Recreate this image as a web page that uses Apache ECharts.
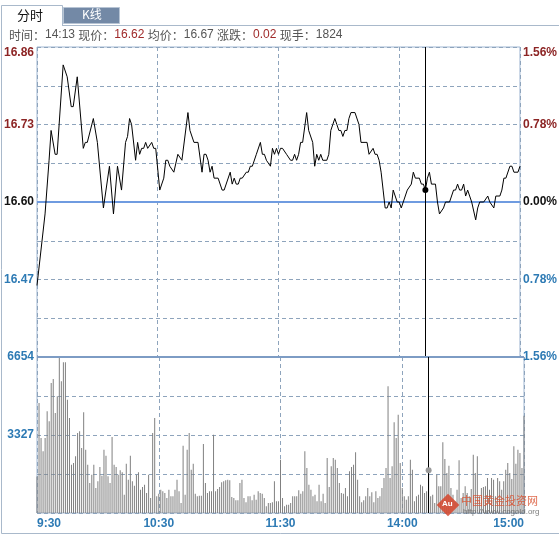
<!DOCTYPE html>
<html>
<head>
<meta charset="utf-8">
<script src="https://cdn.jsdelivr.net/npm/echarts@6/dist/echarts.min.js"></script>
<style>
  html, body { margin: 0; padding: 0; background: #fff; }
  #chart { width: 560px; height: 538px; }
</style>
</head>
<body>
<div id="chart"></div>
<script>
// x axis: minute index of the session, 0 = 9:30, 120 = 11:30/13:00, 240 = 15:00
const timeLabels = ['9:30', '10:30', '11:30', '14:00', '15:00']
const prevClose = 16.60
const priceStep = 0.065
const avgPrice = 16.67
const crossMinute = 193   // 14:13

// price line, read vertex by vertex
const priceMinutes = [0,4,6,7,9,10,13,15,17,18,20,23,24,25,28,30,33,36,38,40,42,44,45,46,47,49,50,51,52,53,54,55,57,58,59,
  61,63,64,65,66,68,70,72,75,76,78,80,82,83,84,85,86,87,88,90,92,93,96,97,98,99,100,101,102,104,105,106,107,109,111,112,113,114,116,117,118,119,120,
  121,122,124,126,127,128,129,130,131,132,134,135,137,138,139,140,141,142,144,145,146,147,148,149,150,151,152,153,154,155,156,158,160,161,163,164,165,167,168,169,170,171,172,173,174,175,176,177,179,180,
  181,182,184,186,187,188,190,191,192,193,194,195,196,198,199,200,202,203,205,207,208,209,210,211,212,213,214,215,216,218,219,220,222,224,225,227,228,230,231,232,233,235,236,237,239,240]
const priceValues = [16.46,16.58,16.67,16.72,16.68,16.68,16.83,16.81,16.76,16.76,16.81,16.69,16.70,16.70,16.74,16.70,16.59,16.66,16.58,16.66,16.62,16.70,16.71,16.74,16.73,16.67,16.70,16.68,16.69,16.69,16.70,16.69,16.70,16.69,16.69,
  16.62,16.64,16.67,16.67,16.66,16.65,16.68,16.67,16.75,16.72,16.70,16.70,16.65,16.68,16.68,16.67,16.65,16.66,16.64,16.64,16.62,16.62,16.65,16.63,16.64,16.63,16.63,16.64,16.64,16.65,16.65,16.66,16.66,16.68,16.70,16.68,16.68,16.67,16.66,16.69,16.68,16.69,16.68,
  16.69,16.69,16.68,16.67,16.67,16.68,16.67,16.68,16.70,16.70,16.75,16.72,16.70,16.66,16.68,16.67,16.68,16.67,16.67,16.68,16.72,16.73,16.74,16.73,16.72,16.72,16.71,16.72,16.72,16.74,16.75,16.75,16.73,16.70,16.70,16.70,16.68,16.69,16.68,16.68,16.67,16.65,16.62,16.59,16.59,16.60,16.59,16.62,16.60,16.60,
  16.59,16.60,16.62,16.63,16.65,16.64,16.64,16.63,16.63,16.62,16.64,16.65,16.63,16.63,16.60,16.58,16.59,16.60,16.60,16.62,16.62,16.63,16.62,16.62,16.63,16.61,16.62,16.61,16.60,16.57,16.59,16.60,16.60,16.61,16.60,16.59,16.61,16.61,16.62,16.64,16.64,16.66,16.66,16.65,16.65,16.66]

// volume per minute, 241 bars
const volume = [1560,4693,3200,2631,3200,4337,3911,5546,5716,4266,
  4977,6612,5617,6427,6427,4835,4053,2062,2133,2417,
  3413,3484,2773,4294,2702,2062,1280,1635,2062,1067,
  1351,1962,1593,2702,2446,1564,1280,3242,2062,1962,
  1635,1820,1735,782,2105,1422,2446,1351,1166,1635,
  1735,995,1109,1209,853,1635,640,3413,4053,711,
  825,995,924,853,640,995,711,711,995,1422,
  924,427,2872,782,2702,3413,
  1849,2105,825,711,739,739,2944,1280,853,924,
  924,3342,924,1024,1109,1308,1351,1394,1422,1394,
  683,640,540,540,1280,1422,640,455,711,711,
  540,782,569,924,853,825,640,284,427,427,
  455,1351,498,498,2275,640,284,356,356,427,
  711,711,711,967,825,924,2631,1920,1209,995,
  711,782,498,1209,498,825,427,2346,1109,1991,
  2346,2275,1920,1280,853,825,1067,711,1778,1962,
  2062,2588,1422,711,455,540,711,1067,
  711,882,455,924,640,711,1067,1493,1920,5404,
  1493,1991,3868,3200,4195,2133,1067,711,569,711,
  2275,1849,498,711,782,1209,1138,853,924,1824,
  711,782,427,1635,1138,1138,3015,2304,1706,
  2019,1067,782,498,995,2247,640,853,1138,
  853,711,1024,2489,1706,2417,711,1067,1109,1138,
  1493,995,1493,1422,711,1493,1351,995,1351,1849,
  2133,1706,1450,2844,2105,2702,2560,1920,4152]
const volMax = 6654

const RED = '#8c2424', BLUE = '#2d7ab4', GRIDC = '#8ea4bc', FRAME = '#9fb6d2'
const FONT = 'Liberation Sans, Arial, Noto Sans CJK SC, sans-serif'

const priceData = priceMinutes.map((m, i) => [m, priceValues[i]])
const volData = volume.map((v, i) => [i, v])
const crossPrice = priceValues[priceMinutes.indexOf(crossMinute)]
const crossVol = volume[crossMinute]

function minuteToTime(m) {
  const t = m <= 120 ? 9 * 60 + 30 + m : 13 * 60 + (m - 120)
  return Math.floor(t / 60) + ':' + String(t % 60).padStart(2, '0')
}

const dashed = { show: true, lineStyle: { color: GRIDC, type: [4, 3], width: 1 } }
const pctText = v => (Math.floor(Math.abs(v) * priceStep / prevClose * 10000) / 100).toFixed(2) + '%'
const sideColor = v => (v > 0 ? RED : v < 0 ? BLUE : '#111')

const chart = echarts.init(document.getElementById('chart'))
chart.setOption({
  animation: false,
  grid: [
    { left: 37, top: 47, width: 487, height: 310, show: true, borderColor: FRAME, borderWidth: 1 },
    { left: 37, top: 357, width: 487, height: 156, show: true, borderColor: FRAME, borderWidth: 1 },
  ],
  xAxis: [
    { gridIndex: 0, type: 'value', min: 0, max: 240, interval: 60,
      axisLine: { show: false }, axisTick: { show: false }, axisLabel: { show: false }, splitLine: dashed },
    { gridIndex: 1, type: 'value', min: 0, max: 240, interval: 60,
      axisLine: { show: false }, axisTick: { show: false }, splitLine: dashed,
      axisLabel: { color: BLUE, fontWeight: 'bold', fontSize: 12, fontFamily: FONT, margin: 5,
        alignMinLabel: 'left', alignMaxLabel: 'right',
        formatter: v => timeLabels[v / 60] } },
  ],
  yAxis: [
    // carries the price line
    { gridIndex: 0, type: 'value', min: 16.34, max: 16.86, show: false },
    // left labels, in steps of priceStep from the previous close
    { gridIndex: 0, type: 'value', position: 'left', min: -4, max: 4, interval: 1,
      axisLine: { show: false }, axisTick: { show: false }, splitLine: dashed,
      axisLabel: { fontWeight: 'bold', fontSize: 12, fontFamily: FONT, margin: 3,
        verticalAlignMaxLabel: 'top',
        color: v => sideColor(Number(v)),
        formatter: v => (v % 2 === 0 && v > -4 ? (prevClose + v * priceStep).toFixed(2) : '') } },
    // right labels, percent
    { gridIndex: 0, type: 'value', position: 'right', min: -4, max: 4, interval: 1,
      axisLine: { show: false }, axisTick: { show: false }, splitLine: { show: false },
      axisLabel: { fontWeight: 'bold', fontSize: 12, fontFamily: FONT, margin: 3,
        verticalAlignMaxLabel: 'top',
        color: v => sideColor(Number(v)),
        formatter: v => (v % 2 === 0 ? pctText(v) : '') } },
    // volume
    { gridIndex: 1, type: 'value', min: 0, max: volMax, interval: volMax / 4,
      axisLine: { show: false }, axisTick: { show: false }, splitLine: dashed,
      axisLabel: { color: BLUE, fontWeight: 'bold', fontSize: 12, fontFamily: FONT, margin: 3,
        formatter: v => (v === volMax || v === volMax / 2 ? String(v) : '') } },
  ],
  series: [
    { type: 'line', xAxisIndex: 0, yAxisIndex: 0, data: priceData, symbol: 'none',
      lineStyle: { color: '#000', width: 1 }, z: 5,
      markLine: { silent: true, symbol: 'none', label: { show: false },
        data: [
          { yAxis: prevClose, lineStyle: { color: '#6f9be0', width: 2, type: 'solid' } },
          { xAxis: crossMinute, lineStyle: { color: '#000', width: 1, type: 'solid' } },
        ] },
      markPoint: { silent: true, symbol: 'circle', symbolSize: 6, label: { show: false },
        itemStyle: { color: '#000' }, data: [{ coord: [crossMinute, crossPrice] }] } },
    { type: 'bar', xAxisIndex: 1, yAxisIndex: 3, data: volData, barWidth: 1,
      itemStyle: { color: '#808080' },
      markLine: { silent: true, symbol: 'none', label: { show: false },
        data: [
          { yAxis: volMax, lineStyle: { color: '#7d9cc4', width: 2, type: 'solid' } },
          { xAxis: crossMinute, lineStyle: { color: '#000', width: 1, type: 'solid' } },
        ] },
      markPoint: { silent: true, symbol: 'circle', symbolSize: 6, label: { show: false },
        itemStyle: { color: '#9a9a9a' }, data: [{ coord: [crossMinute, crossVol] }] } },
  ],
  graphic: [
    // outer frame and tabs
    { type: 'polyline', silent: true, shape: { points: [[62, 25.5], [559, 25.5]] },
      style: { stroke: '#a9b9cb', fill: null, lineWidth: 1 } },
    { type: 'polyline', silent: true,
      shape: { points: [[62.5, 25], [62.5, 5.5], [1.5, 5.5], [1.5, 533.5], [559, 533.5]] },
      style: { stroke: '#a9b9cb', fill: null, lineWidth: 1 } },
    { type: 'text', silent: true, left: 17, top: 9,
      style: { text: '分时', fill: '#111', font: '13px Noto Sans CJK SC, sans-serif' } },
    { type: 'rect', silent: true, shape: { x: 63.5, y: 7.5, width: 56, height: 16 },
      style: { fill: '#7389a6', stroke: '#b7c4d4', lineWidth: 1 } },
    { type: 'text', silent: true, left: 82, top: 8,
      style: { text: 'K线', fill: '#fff', font: '12px Noto Sans CJK SC, sans-serif' } },
    // info line
    { type: 'text', silent: true, left: 9, top: 29,
      style: {
        text: '{k|时间：}{v|' + minuteToTime(crossMinute) + '} {k|现价：}{r|' + crossPrice.toFixed(2) +
          '} {k|均价：}{v|' + avgPrice.toFixed(2) + '} {k|涨跌：}{r|' + (crossPrice - prevClose).toFixed(2) +
          '} {k|现手：}{v|' + crossVol + '}',
        rich: {
          k: { fill: '#555', fontSize: 12, fontFamily: 'Noto Sans CJK SC, sans-serif' },
          v: { fill: '#555', fontSize: 12, fontFamily: FONT },
          r: { fill: '#a02a2a', fontSize: 12, fontFamily: FONT },
        },
      } },
    // watermark
    { type: 'rect', silent: true, z: 100, x: 448, y: 505, rotation: Math.PI / 4,
      shape: { x: -8, y: -8, width: 16, height: 16 },
      style: { fill: '#d6452c', opacity: 0.85 } },
    { type: 'text', silent: true, z: 101, left: 442, top: 500,
      style: { text: 'Au', fill: '#fff', font: 'bold 8px Liberation Sans, sans-serif' } },
    { type: 'text', silent: true, z: 100, left: 461, top: 495,
      style: { text: '中国黄金投资网', fill: '#d9502e', opacity: 0.85, font: '11px Noto Sans CJK SC, sans-serif' } },
    { type: 'text', silent: true, z: 100, left: 463, top: 508,
      style: { text: 'http://www.cngold.org', fill: '#666', opacity: 0.85, font: '8px Liberation Sans, sans-serif' } },
  ],
})
</script>
</body>
</html>
